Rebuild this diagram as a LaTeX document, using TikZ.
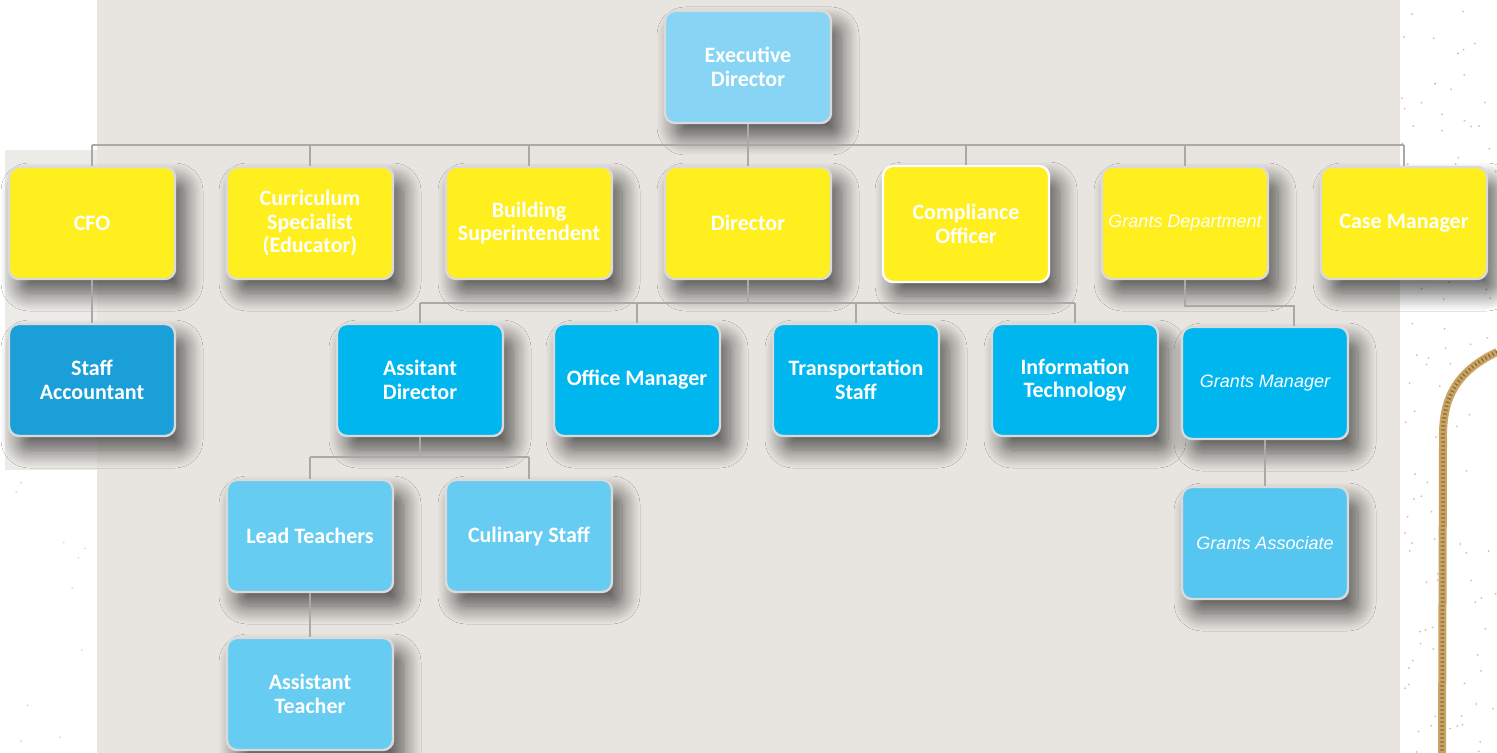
\documentclass[tikz,border=0pt]{standalone}
\usepackage{fontspec}
\setmainfont{Carlito}
\newfontfamily\arialfont{Liberation Sans}
\usetikzlibrary{shadows.blur}
\definecolor{panel}{HTML}{E8E5E0}
\definecolor{paneltwo}{HTML}{EDEBE8}
\definecolor{yel}{HTML}{FFEF1E}
\definecolor{edblue}{HTML}{87D4F5}
\definecolor{cyanbox}{HTML}{00B6EF}
\definecolor{darkbox}{HTML}{1A9FD8}
\definecolor{skybox}{HTML}{66CCF2}
\definecolor{assocbox}{HTML}{55C6F0}
\definecolor{boxedge}{HTML}{DADADA}
\definecolor{conn}{HTML}{A9A9A9}
\definecolor{gold}{HTML}{C9A464}
\definecolor{golddark}{HTML}{8A6A34}
\tikzset{
  box/.style={rectangle, rounded corners=5pt, draw=boxedge, line width=1.2pt,
    minimum width=83pt, minimum height=56pt, align=center, text=white,
    font=\fontsize{11}{11.8}\selectfont\bfseries, inner sep=2pt,
    blur shadow={shadow xshift=5pt, shadow yshift=-7pt, shadow blur radius=9pt,
      shadow blur steps=16, shadow opacity=65}},
  yelbox/.style={box, fill=yel},
  edbox/.style={box, fill=edblue},
  cybox/.style={box, fill=cyanbox},
  dkbox/.style={box, fill=darkbox},
  skbox/.style={box, fill=skybox},
  asbox/.style={box, fill=assocbox},
  ital/.style={font=\arialfont\fontsize{9}{12}\selectfont\itshape},
  link/.style={draw=conn, line width=1.3pt}
}
\begin{document}
\begin{tikzpicture}[x=0.5pt, y=-0.5pt]
\useasboundingbox (0,0) rectangle (1497,753);
\fill[white] (0,0) rectangle (1497,753);
\fill[paneltwo] (5,150) rectangle (97,470);
\fill[panel] (97,0) rectangle (1400,753);
% gold specks
\pgfmathsetseed{7}
\foreach \i in {1,...,110}{
  \pgfmathsetmacro\xx{1402+rnd*95}
  \pgfmathsetmacro\yy{rnd*753}
  \fill[gold!70] (\xx,\yy) circle (0.5pt);
}
\foreach \i in {1,...,10}{
  \pgfmathsetmacro\xx{5+rnd*90}
  \pgfmathsetmacro\yy{480+rnd*270}
  \fill[gold!50] (\xx,\yy) circle (0.45pt);
}
% gold border
\draw[gold, line width=4pt] (1497,352) .. controls (1455,372) and (1442,400) .. (1443,440) -- (1442,753);
\draw[golddark, line width=2pt, dash pattern=on 0.6pt off 1.4pt] (1497,352) .. controls (1455,372) and (1442,400) .. (1443,440) -- (1442,753);

% nodes
\node[edbox] (ed) at (748,67) {Executive\\Director};

\node[yelbox] (cfo) at (92,223) {CFO};
\node[yelbox] (cur) at (310,223) {Curriculum\\Specialist\\(Educator)};
\node[yelbox] (bld) at (529,223) {Building\\Superintendent};
\node[yelbox] (dir) at (748,223) {Director};
\node[yelbox, draw=white, minimum height=58pt] (comp) at (966,224) {Compliance\\Officer};
\node[yelbox, ital] (gd) at (1185,223) {Grants Department};
\node[yelbox] (cm) at (1404,223) {Case Manager};

\node[dkbox] (sa) at (92,380) {Staff\\Accountant};
\node[cybox] (ad) at (420,380) {Assitant\\Director};
\node[cybox] (om) at (637,380) {Office Manager};
\node[cybox] (ts) at (856,380) {Transportation\\Staff};
\node[cybox] (it) at (1075,380) {Information\\Technology};
\node[cybox, ital] (gm) at (1265,383) {Grants Manager};

\node[skbox] (lt) at (310,536) {Lead Teachers};
\node[skbox] (cs) at (529,536) {Culinary Staff};
\node[asbox, ital] (ga) at (1265,543) {Grants Associate};

\node[skbox] (at) at (310,694) {Assistant\\Teacher};

% connectors
\coordinate (busa) at (0,145);
\coordinate (busb) at (0,303);
\coordinate (busc) at (0,457);
\coordinate (gmd) at (1294,306);

\draw[link] (ed.south) -- (dir.north);
\draw[link] (cfo.north |- busa) -- (cm.north |- busa);
\foreach \n in {cfo,cur,bld,comp,gd,cm}{
  \draw[link] (\n.north) -- (\n.north |- busa);
}
\draw[link] (cfo.south) -- (sa.north);

\draw[link] (dir.south) -- (dir.south |- busb);
\draw[link] (ad.north |- busb) -- (it.north |- busb);
\foreach \n in {ad,om,ts,it}{
  \draw[link] (\n.north) -- (\n.north |- busb);
}

\draw[link] (gd.south) |- (gmd) -- (gmd |- gm.north);
\draw[link] (gm.south) -- (ga.north);

\draw[link] (ad.south) -- (ad.south |- busc);
\draw[link] (lt.north |- busc) -- (cs.north |- busc);
\draw[link] (lt.north) -- (lt.north |- busc);
\draw[link] (cs.north) -- (cs.north |- busc);
\draw[link] (lt.south) -- (at.north);
\end{tikzpicture}
\end{document}
